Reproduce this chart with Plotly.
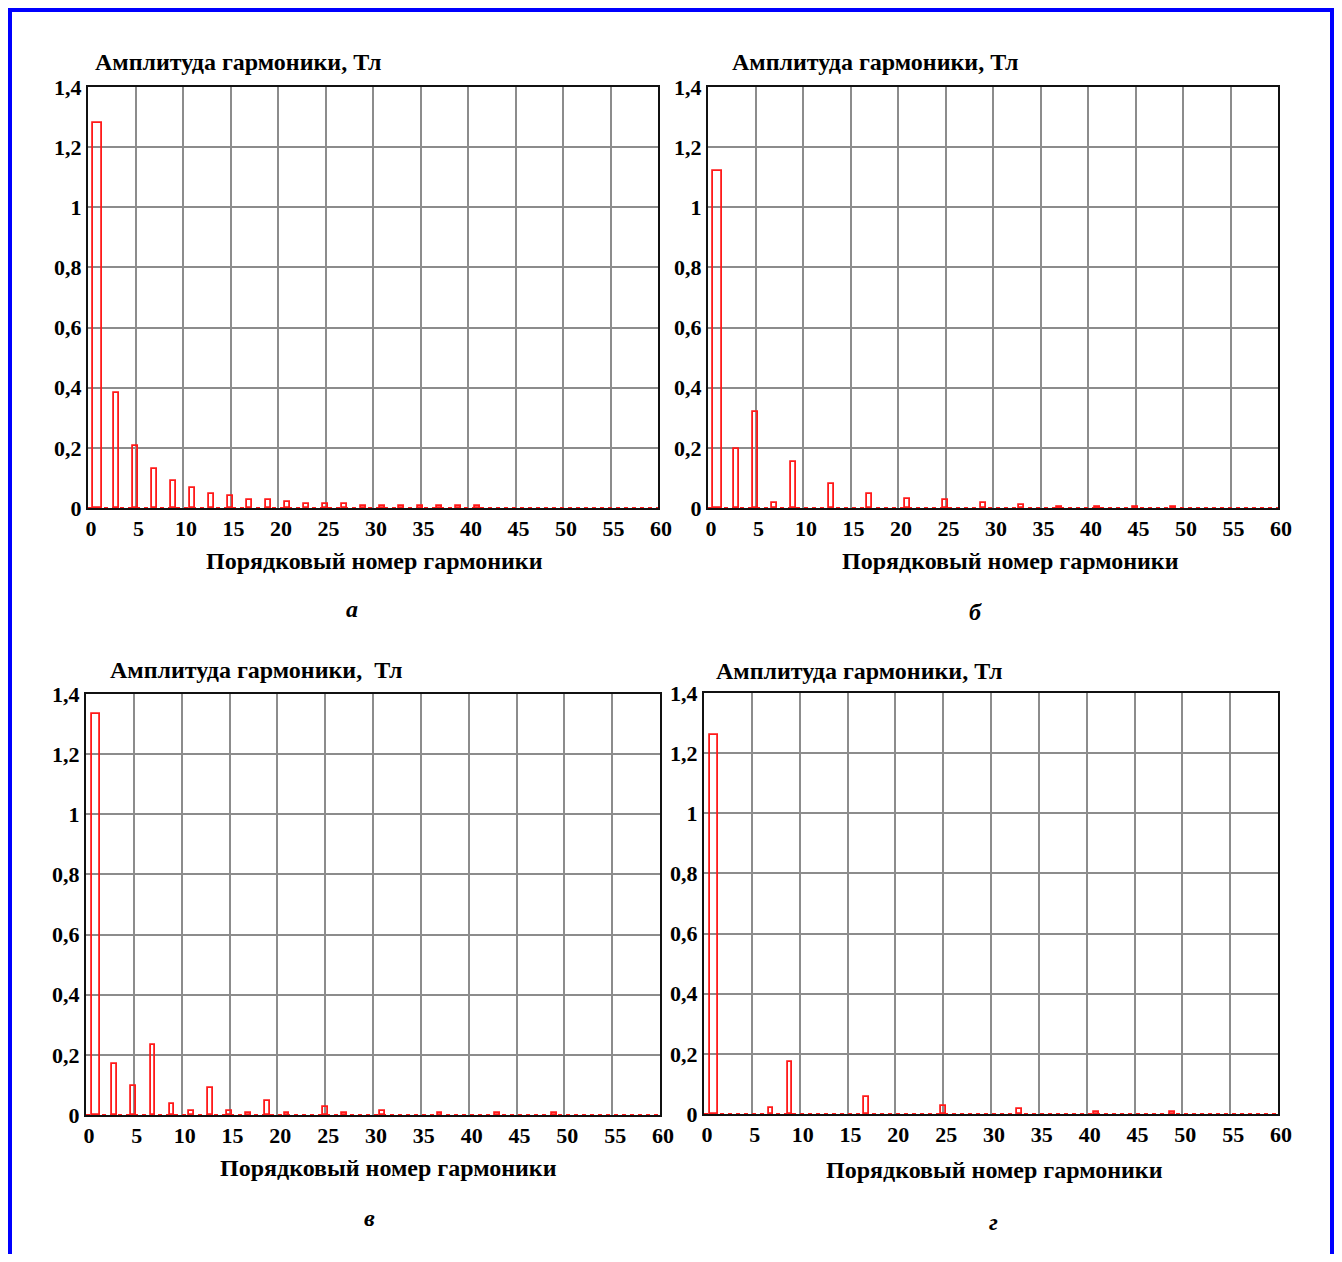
import plotly.graph_objects as go

# page is 1342x1262 with an 8px body margin -> figure is 1326x1246
PAGE_W, PAGE_H = 1342, 1262
OFF = 8
W, H = PAGE_W - 2 * OFF, PAGE_H - 2 * OFF

# ---- data (harmonic number, amplitude in T) ----
harm_a = [1, 3, 5, 7, 9, 11, 13, 15, 17, 19, 21, 23, 25, 27, 29, 31, 33, 35, 37, 39, 41]
amp_a = [1.28, 0.383, 0.207, 0.13, 0.09, 0.067, 0.045, 0.039, 0.027, 0.027, 0.02, 0.014,
         0.014, 0.014, 0.007, 0.007, 0.007, 0.007, 0.007, 0.007, 0.007]

harm_b = [1, 3, 5, 7, 9, 13, 17, 21, 25, 29, 33, 37, 41, 45, 49]
amp_b = [1.12, 0.197, 0.318, 0.018, 0.153, 0.08, 0.048, 0.031, 0.026, 0.018, 0.011,
         0.005, 0.005, 0.005, 0.005]

harm_c = [1, 3, 5, 7, 9, 11, 13, 15, 17, 19, 21, 25, 27, 31, 37, 43, 49]
amp_c = [1.335, 0.17, 0.096, 0.234, 0.038, 0.013, 0.09, 0.013, 0.007, 0.045, 0.006,
         0.027, 0.006, 0.013, 0.006, 0.006, 0.006]

harm_d = [1, 7, 9, 17, 25, 33, 41, 49]
amp_d = [1.262, 0.021, 0.174, 0.058, 0.027, 0.015, 0.007, 0.007]

y_title = "Амплитуда гармоники, Тл"
y_title_c = "Амплитуда гармоники,  Тл"
x_title = "Порядковый номер гармоники"
sub_labels = ["а", "б", "в", "г"]

# ---- layout geometry (page pixels) ----
panels = [
    dict(h=harm_a, a=amp_a, x0=88, x1=658, y0=87, y1=508,
         title=y_title, tx=93, ty=62, xt=374, xty=561, sl=(352, 609)),
    dict(h=harm_b, a=amp_b, x0=708, x1=1278, y0=87, y1=508,
         title=y_title, tx=730, ty=62, xt=1010, xty=561, sl=(975, 612)),
    dict(h=harm_c, a=amp_c, x0=86, x1=660, y0=694, y1=1115,
         title=y_title_c, tx=108, ty=670, xt=389, xty=1168, sl=(370, 1218)),
    dict(h=harm_d, a=amp_d, x0=704, x1=1278, y0=693, y1=1114,
         title=y_title, tx=714, ty=671, xt=994, xty=1170, sl=(993, 1222)),
]

FONT = "Liberation Serif"
RED = "#ff1a1a"

fig = go.Figure()
layout = dict(
    width=W, height=H, margin=dict(l=0, r=0, t=0, b=0, autoexpand=False),
    paper_bgcolor="white", plot_bgcolor="white",
    showlegend=False, separators=", ",
    bargap=0,
)
annotations = []
shapes = []


def px(x):
    return (x - OFF) / W


def py(y):
    return 1 - (y - OFF) / H


for i, p in enumerate(panels):
    n = "" if i == 0 else str(i + 1)
    xa, ya = "x" + n, "y" + n
    widths = [0.85 if h == 1 else 0.5 for h in p["h"]]
    fig.add_trace(go.Bar(
        x=p["h"], y=p["a"], width=widths, xaxis=xa, yaxis=ya,
        marker=dict(color="rgba(255,255,255,0)", line=dict(color=RED, width=1.8)),
        hoverinfo="x+y",
    ))
    # red dashed baseline over black axis
    fig.add_trace(go.Scatter(
        x=[0, 60], y=[0, 0], xaxis=xa, yaxis=ya, mode="lines",
        line=dict(color=RED, width=2, dash="4px,4px"), hoverinfo="skip",
    ))
    tickfont = dict(family=FONT, size=22, color="black", weight="bold")
    layout["xaxis" + n] = dict(
        domain=[px(p["x0"]), px(p["x1"])], anchor=ya, range=[0, 60],
        dtick=5, tick0=0, showgrid=True, gridcolor="#8c8c8c", gridwidth=2,
        showline=True, linecolor="#111", linewidth=2, mirror=True,
        ticks="", tickfont=tickfont, zeroline=False, fixedrange=True,
        ticklabelshift=3, automargin=False,
    )
    layout["yaxis" + n] = dict(
        domain=[py(p["y1"]), py(p["y0"])], anchor=xa, range=[0, 1.4],
        dtick=0.2, tick0=0, showgrid=True, gridcolor="#8c8c8c", gridwidth=2,
        showline=True, linecolor="#111", linewidth=2, mirror=True,
        ticks="", tickfont=tickfont, zeroline=False, fixedrange=True,
        ticklabelstandoff=0, automargin=False,
    )
    annotations.append(dict(
        x=px(p["tx"]), y=py(p["ty"]), xref="paper", yref="paper",
        xanchor="left", yanchor="middle", showarrow=False,
        text="<b>" + p["title"] + "</b>",
        font=dict(family=FONT, size=24, color="black"),
    ))
    annotations.append(dict(
        x=px(p["xt"]), y=py(p["xty"]), xref="paper", yref="paper",
        xanchor="center", yanchor="middle", showarrow=False,
        text="<b>" + x_title + "</b>",
        font=dict(family=FONT, size=24, color="black"),
    ))
    annotations.append(dict(
        x=px(p["sl"][0]), y=py(p["sl"][1]), xref="paper", yref="paper",
        xanchor="center", yanchor="middle", showarrow=False,
        text="<b><i>" + sub_labels[i] + "</i></b>",
        font=dict(family=FONT, size=24, color="black"),
    ))

# blue outer frame (as close to the page edge as the figure allows)
shapes.append(dict(type="rect", xref="paper", yref="paper",
                   x0=px(OFF + 2), x1=px(OFF + W - 2),
                   y0=py(PAGE_H + 20), y1=py(OFF + 2),
                   line=dict(color="#0000ff", width=4), fillcolor="rgba(0,0,0,0)"))

layout["annotations"] = annotations
layout["shapes"] = shapes
fig.update_layout(**layout)
fig.write_html("out.html")
